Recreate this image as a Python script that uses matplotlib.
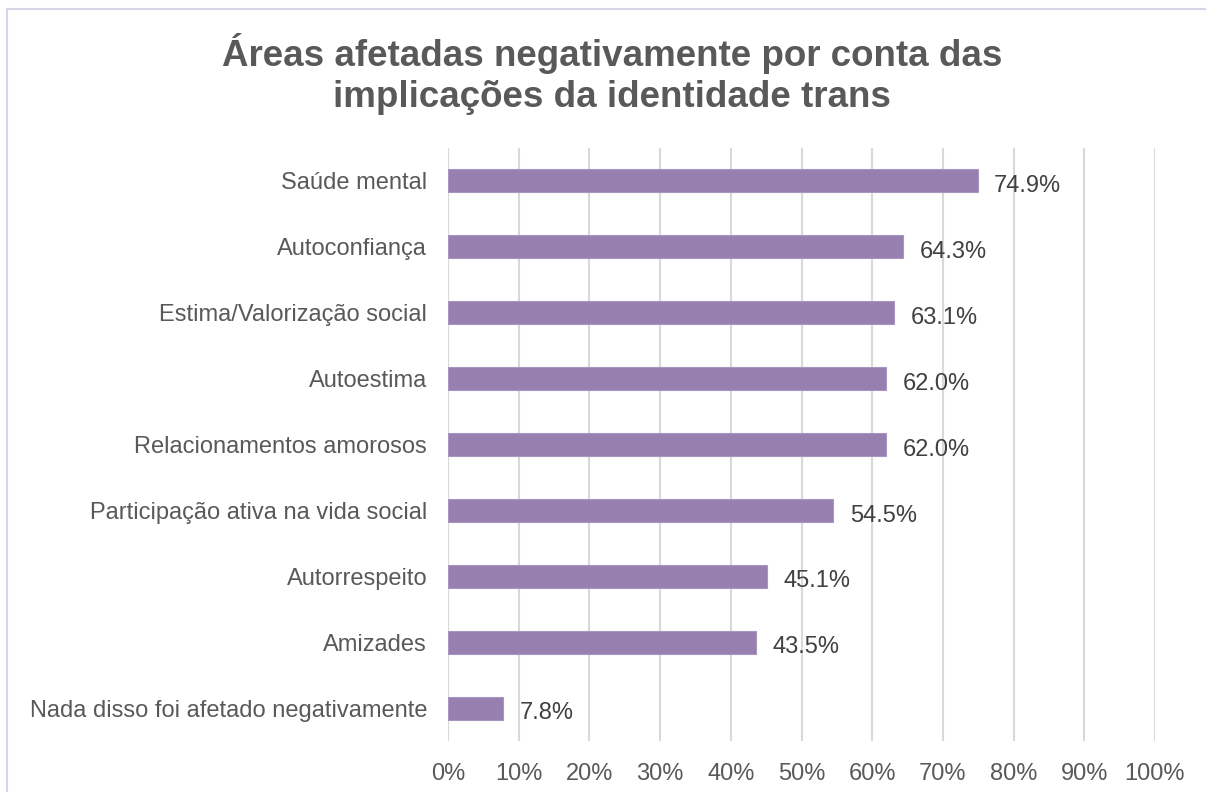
import matplotlib.pyplot as plt
from matplotlib.patches import Rectangle

plt.rcParams['font.family'] = ['Liberation Sans', 'DejaVu Sans']

categories = [
    'Saúde mental',
    'Autoconfiança',
    'Estima/Valorização social',
    'Autoestima',
    'Relacionamentos amorosos',
    'Participação ativa na vida social',
    'Autorrespeito',
    'Amizades',
    'Nada disso foi afetado negativamente',
]
values = [74.9, 64.3, 63.1, 62.0, 62.0, 54.5, 45.1, 43.5, 7.8]
xticks = [0, 10, 20, 30, 40, 50, 60, 70, 80, 90, 100]
title_lines = ['Áreas afetadas negativamente por conta das', 'implicações da identidade trans']

text_color = '#595959'
bar_color = '#977FB0'

fig = plt.figure(figsize=(12.06, 7.92), dpi=100)
ax = fig.add_axes([0.3715, 0.0644, 0.5862, 0.7487])

pos = list(range(len(categories)))
ax.barh(pos, values, height=0.35, color=bar_color, edgecolor='#A996C0', linewidth=0.8, zorder=3)
for p, v in zip(pos, values):
    ax.annotate(f'{v:.1f}%', (v, p), xytext=(12, -8), textcoords='offset points',
                va='baseline', ha='left', fontsize=17, color='#404040', zorder=4)

ax.set_ylim(len(categories) - 0.5, -0.5)
ax.set_xlim(0, 100)
ax.set_yticks(pos)
ax.set_yticklabels(categories, fontsize=17, color=text_color)
ax.set_xticks(xticks)
ax.set_xticklabels([f'{t}%' for t in xticks], fontsize=17, color=text_color)
ax.tick_params(axis='both', length=0)
ax.tick_params(axis='y', pad=15)
ax.tick_params(axis='x', pad=16)
ax.grid(axis='x', color='#D9D9D9', linewidth=1.5, zorder=0)
for s in ax.spines.values():
    s.set_visible(False)

# title, two lines on fixed baselines
fig.text(612 / 1206, 1 - 66 / 792, title_lines[0], ha='center', va='baseline',
         fontsize=26.5, fontweight='bold', color=text_color)
fig.text(612 / 1206, 1 - 107 / 792, title_lines[1], ha='center', va='baseline',
         fontsize=26.5, fontweight='bold', color=text_color)

# chart border (runs off right and bottom edges)
fig.patches.append(Rectangle((7 / 1206, -0.05), 1.1, 1 - 9 / 792 + 0.05, transform=fig.transFigure,
                             fill=False, edgecolor='#D9D3E6', linewidth=1.5))

fig.savefig('out.png', dpi=100)
